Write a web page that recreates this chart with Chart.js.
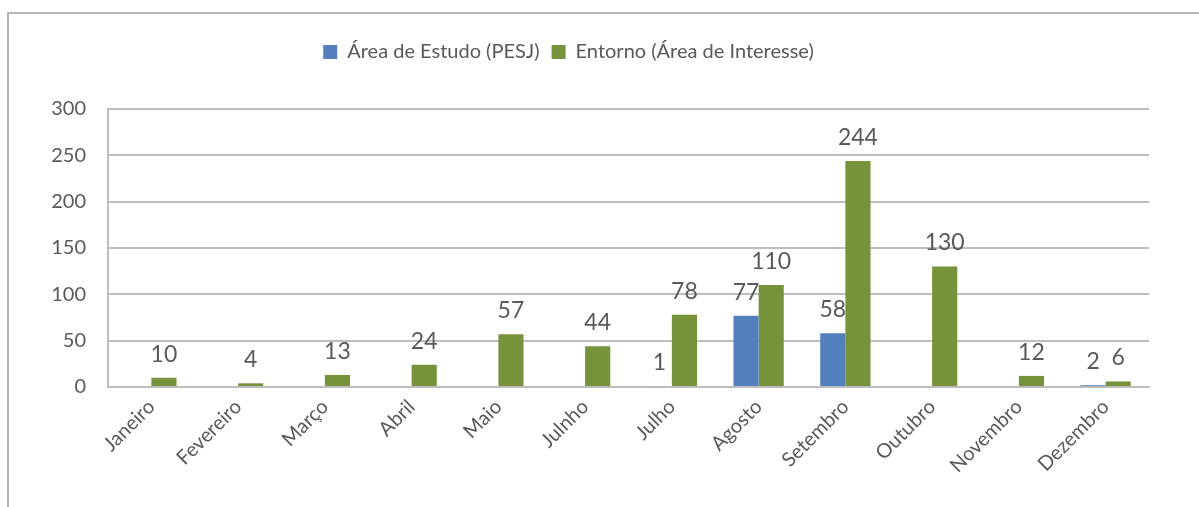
<!DOCTYPE html>
<html>
<head>
<meta charset="utf-8">
<script src="https://cdn.jsdelivr.net/npm/chart.js@4"></script>
<style>
  html, body { margin: 0; padding: 0; background: #fff; }
  #wrap { position: relative; width: 1199px; height: 507px; overflow: hidden; }
  #frame { position: absolute; left: 7px; top: 12px; width: 1300px; height: 600px;
           border-left: 2px solid #b4b4b4; border-top: 2px solid #b4b4b4; }
  canvas { position: absolute; left: 0; top: 0; }
</style>
</head>
<body>
<div id="wrap">
  <div id="frame"></div>
  <canvas id="grafico" width="1199" height="507"></canvas>
</div>
<script>
// dados do gráfico
const meses = ["Janeiro", "Fevereiro", "Março", "Abril", "Maio", "Julnho", "Julho",
               "Agosto", "Setembro", "Outubro", "Novembro", "Dezembro"];
const areaEstudo = [0, 0, 0, 0, 0, 0, 1, 77, 58, 0, 0, 2];
const entorno = [10, 4, 13, 24, 57, 44, 78, 110, 244, 130, 12, 6];
const ticksY = [0, 50, 100, 150, 200, 250, 300];

const fonte = "Lato, 'Open Sans', sans-serif";
const corTexto = "#595959";

// rótulos de valor acima das barras (só valores > 0)
const rotulosPlugin = {
    id: "rotulos",
    afterDatasetsDraw(chart) {
        const ctx = chart.ctx;
        ctx.save();
        ctx.font = "23px " + fonte;
        ctx.fillStyle = corTexto;
        ctx.textAlign = "center";
        ctx.textBaseline = "bottom";
        chart.data.datasets.forEach((ds, i) => {
            const meta = chart.getDatasetMeta(i);
            meta.data.forEach((bar, j) => {
                const v = ds.data[j];
                if (v > 0) {
                    ctx.fillText(String(v), bar.x, bar.y - 12);
                }
            });
        });
        ctx.restore();
    }
};

// espaço extra entre a legenda e a área do gráfico, e legenda um pouco à esquerda
const espacoLegenda = {
    id: "espacoLegenda",
    beforeLayout(chart) {
        const lg = chart.legend;
        if (lg && !lg._ajustado) {
            const fitOriginal = lg.fit;
            lg.fit = function () {
                fitOriginal.call(this);
                this.height += 37;
            };
            lg._ajustado = true;
        }
    },
    afterLayout(chart) {
        const lg = chart.legend;
        if (lg) {
            lg.left -= 16;
            lg.right -= 16;
        }
    }
};

const ctx = document.getElementById("grafico").getContext("2d");
new Chart(ctx, {
    type: "bar",
    data: {
        labels: meses,
        datasets: [
            {
                label: "Área de Estudo (PESJ)",
                data: areaEstudo,
                backgroundColor: "#5580be",
                barPercentage: 1.0,
                categoryPercentage: 0.58,
            },
            {
                label: "Entorno (Área de Interesse)",
                data: entorno,
                backgroundColor: "#76933c",
                barPercentage: 1.0,
                categoryPercentage: 0.58,
            },
        ],
    },
    options: {
        responsive: false,
        animation: false,
        layout: { padding: { left: 20, right: 50, top: 30, bottom: 0 } },
        plugins: {
            legend: {
                position: "top",
                labels: {
                    font: { family: fonte, size: 20 },
                    color: corTexto,
                    boxWidth: 14,
                    boxHeight: 14,
                    padding: 12,
                },
            },
            tooltip: { enabled: false },
        },
        scales: {
            x: {
                grid: { display: false, drawTicks: false },
                border: { color: "#bdbdbd", width: 2 },
                ticks: {
                    color: corTexto,
                    font: { family: fonte, size: 20 },
                    minRotation: 45,
                    maxRotation: 45,
                    padding: 8,
                },
                afterFit(scale) { scale.height = 120; },
            },
            y: {
                min: 0,
                max: 300,
                afterBuildTicks(scale) {
                    scale.ticks = ticksY.map(v => ({ value: v }));
                },
                grid: { color: "#bdbdbd", lineWidth: 2, drawTicks: false },
                border: { color: "#bdbdbd", width: 2 },
                ticks: {
                    color: corTexto,
                    font: { family: fonte, size: 20 },
                    padding: 22,
                },
                afterFit(scale) { scale.width = 88; },
            },
        },
    },
    plugins: [rotulosPlugin, espacoLegenda],
});
</script>
</body>
</html>
